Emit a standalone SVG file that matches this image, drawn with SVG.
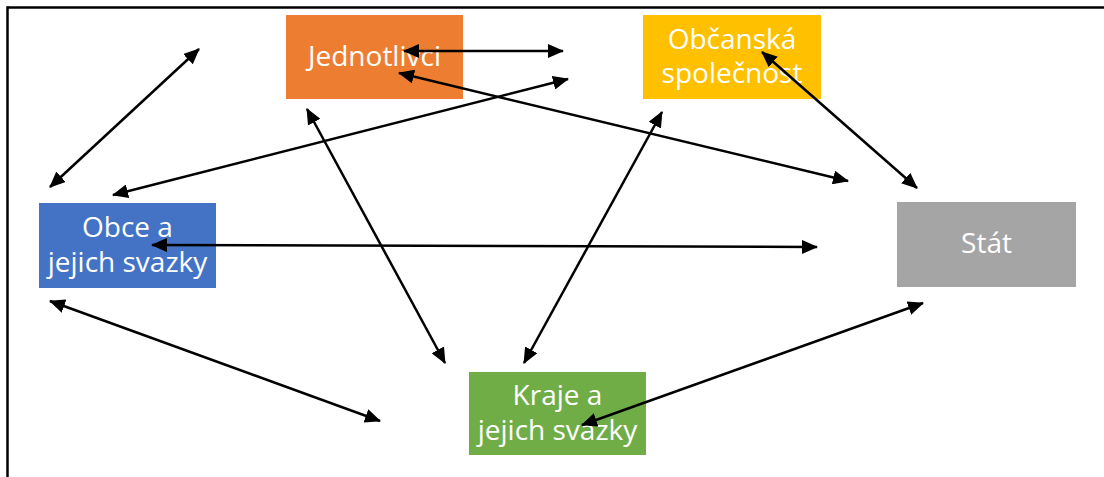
<svg xmlns="http://www.w3.org/2000/svg" width="1104" height="477" viewBox="0 0 1104 477">
  <style>
    .lbl { font-family: "Open Sans", "Liberation Sans", sans-serif; font-size: 28px; fill: #ffffff; text-anchor: middle; }
    .frame { stroke: #000000; stroke-width: 2.5; fill: none; }
    .conn line { stroke: #000000; stroke-width: 2.5; fill: none; marker-start: url(#ah); marker-end: url(#ah); }
  </style>
  <defs>
    <marker id="ah" markerUnits="userSpaceOnUse" markerWidth="16" markerHeight="14" refX="15" refY="7" orient="auto-start-reverse" viewBox="0 0 16 14">
      <path d="M0,0 L16,7 L0,14 z" fill="#000000"/>
    </marker>
  </defs>
  <rect width="1104" height="477" fill="#ffffff"/>
  <g id="frame">
    <line class="frame" x1="7.5" y1="7.5" x2="1104" y2="7.5"/>
    <line class="frame" x1="7.5" y1="6.25" x2="7.5" y2="477"/>
  </g>
  <g id="jednotlivci">
    <rect x="286" y="15" width="177" height="84" fill="#ED7D31"/>
    <text class="lbl" x="374.5" y="66">Jednotlivci</text>
  </g>
  <g id="obcanska">
    <rect x="643" y="15" width="178" height="84" fill="#FFC000"/>
    <text class="lbl" x="732" y="49">Občanská</text>
    <text class="lbl" x="732" y="83">společnost</text>
  </g>
  <g id="obce">
    <rect x="39" y="203" width="177" height="85" fill="#4472C4"/>
    <text class="lbl" x="127.5" y="237">Obce a</text>
    <text class="lbl" x="127.5" y="272">jejich svazky</text>
  </g>
  <g id="stat">
    <rect x="897" y="202" width="179" height="85" fill="#A5A5A5"/>
    <text class="lbl" x="986.5" y="253">Stát</text>
  </g>
  <g id="kraje">
    <rect x="469" y="372" width="177" height="83" fill="#70AD47"/>
    <text class="lbl" x="557.5" y="405">Kraje a</text>
    <text class="lbl" x="557.5" y="440">jejich svazky</text>
  </g>
  <g id="connectors" class="conn">
    <line x1="50" y1="187" x2="199" y2="49"/>
    <line x1="404" y1="51" x2="563" y2="51"/>
    <line x1="399" y1="73" x2="848" y2="181"/>
    <line x1="113" y1="195" x2="568" y2="79"/>
    <line x1="762" y1="52" x2="917" y2="188"/>
    <line x1="662" y1="112" x2="524" y2="363"/>
    <line x1="307" y1="109" x2="445" y2="363"/>
    <line x1="152" y1="245" x2="817" y2="247"/>
    <line x1="50" y1="301" x2="380" y2="421"/>
    <line x1="582" y1="425" x2="923" y2="303"/>
  </g>
</svg>
